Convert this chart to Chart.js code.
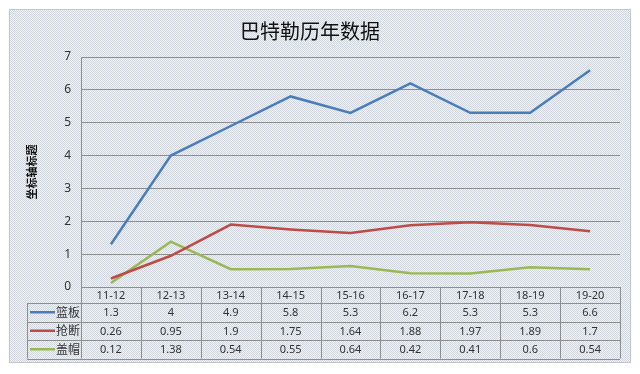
<!DOCTYPE html>
<html>
<head>
<meta charset="utf-8">
<script src="https://cdn.jsdelivr.net/npm/chart.js@4/dist/chart.umd.min.js"></script>
<style>
  html, body { margin: 0; padding: 0; background: #fff; }
  #wrap { width: 640px; height: 374px; }
</style>
</head>
<body>
<div id="wrap"><canvas id="c" width="640" height="374"></canvas></div>
<script>
// 数据
const seasons = ['11-12', '12-13', '13-14', '14-15', '15-16', '16-17', '17-18', '18-19', '19-20'];
const rebounds = [1.3, 4, 4.9, 5.8, 5.3, 6.2, 5.3, 5.3, 6.6];
const steals = [0.26, 0.95, 1.9, 1.75, 1.64, 1.88, 1.97, 1.89, 1.7];
const blocks = [0.12, 1.38, 0.54, 0.55, 0.64, 0.42, 0.41, 0.6, 0.54];
const seriesNames = ['篮板', '抢断', '盖帽'];
const yTicks = [0, 1, 2, 3, 4, 5, 6, 7];

const colors = ['#4a7ebb', '#be4b48', '#98b954'];
const gridColor = '#8e8e8e';
const CJK = '"Noto Sans CJK SC", "Noto Sans", sans-serif';

function dotPattern(ctx) {
    const p = document.createElement('canvas');
    p.width = 2; p.height = 2;
    const g = p.getContext('2d');
    g.fillStyle = '#eef1f5'; g.fillRect(0, 0, 2, 2);
    g.fillStyle = '#d0d7e0'; g.fillRect(0, 0, 1, 1); g.fillRect(1, 1, 1, 1);
    return ctx.createPattern(p, 'repeat');
}

// 背景框 + 数据表
const framePlugin = {
    id: 'frame',
    beforeDraw(chart) {
        const ctx = chart.ctx;
        ctx.save();
        ctx.fillStyle = '#fff';
        ctx.fillRect(0, 0, chart.width, chart.height);
        ctx.fillStyle = dotPattern(ctx);
        ctx.fillRect(9, 9, 622, 354);
        ctx.strokeStyle = '#c4c8cc';
        ctx.lineWidth = 1;
        ctx.strokeRect(9.5, 9.5, 621, 353);
        ctx.restore();
    },
    afterDraw(chart) {
        const ctx = chart.ctx;
        const x = chart.scales.x;
        const area = chart.chartArea;
        const half = (x.getPixelForValue(1) - x.getPixelForValue(0)) / 2;
        const top = area.bottom, headBottom = 303, rowH = 18.5, legendLeft = 27;
        const bottom = headBottom + rowH * 3;
        const rows = [rebounds, steals, blocks];
        const crisp = v => Math.round(v) + 0.5;

        ctx.save();
        ctx.strokeStyle = gridColor;
        ctx.lineWidth = 1;
        ctx.beginPath();
        // 竖线
        for (let i = 0; i <= seasons.length; i++) {
            const px = crisp(x.getPixelForValue(i) - half);
            ctx.moveTo(px, top); ctx.lineTo(px, bottom);
        }
        ctx.moveTo(crisp(legendLeft), headBottom); ctx.lineTo(crisp(legendLeft), bottom);
        // 横线
        for (let r = 0; r <= 3; r++) {
            const py = crisp(headBottom + r * rowH);
            ctx.moveTo(legendLeft, py); ctx.lineTo(area.right, py);
        }
        ctx.stroke();

        ctx.textAlign = 'center';
        ctx.textBaseline = 'middle';
        ctx.fillStyle = '#333';
        ctx.font = '11px "Noto Sans", sans-serif';
        seasons.forEach((s, i) => ctx.fillText(s, x.getPixelForValue(i), (top + headBottom) / 2 + 1));
        rows.forEach((vals, r) => {
            const cy = headBottom + rowH * (r + 0.5) + 1;
            vals.forEach((v, i) => ctx.fillText(String(v), x.getPixelForValue(i), cy));
            // 图例
            ctx.strokeStyle = colors[r];
            ctx.lineWidth = 2.5;
            ctx.beginPath();
            ctx.moveTo(30, cy - 1); ctx.lineTo(55, cy - 1);
            ctx.stroke();
            ctx.textAlign = 'left';
            ctx.font = '12px ' + CJK;
            ctx.fillText(seriesNames[r], 56, cy - 1);
            ctx.textAlign = 'center';
            ctx.font = '11px "Noto Sans", sans-serif';
        });
        ctx.restore();
    }
};

const lineDs = (label, data, color) => ({
    label, data, borderColor: color, backgroundColor: color,
    borderWidth: 2.5, pointRadius: 0, tension: 0, fill: false,
});

new Chart(document.getElementById('c'), {
    type: 'line',
    data: {
        labels: seasons,
        datasets: [
            lineDs(seriesNames[0], rebounds, colors[0]),
            lineDs(seriesNames[1], steals, colors[1]),
            lineDs(seriesNames[2], blocks, colors[2]),
        ],
    },
    options: {
        responsive: false, animation: false,
        layout: { padding: { top: 0, right: 20, left: 0, bottom: 0 } },
        plugins: {
            legend: { display: false },
            tooltip: { enabled: false },
            title: {
                display: true, text: '巴特勒历年数据', color: '#111',
                font: { family: CJK, size: 20, weight: 'normal', lineHeight: 1.2 },
                padding: { top: 19, bottom: 14 },
            },
        },
        scales: {
            x: {
                offset: true,
                grid: { display: false },
                border: { display: false },
                ticks: { display: false },
                afterFit(s) { s.height = 87; },
            },
            y: {
                min: 0, max: 7,
                afterBuildTicks(s) { s.ticks = yTicks.map(v => ({ value: v })); },
                grid: { color: gridColor, lineWidth: 1, drawTicks: false },
                border: { display: true, color: gridColor },
                ticks: { color: '#333', padding: 10, font: { family: '"Noto Sans", sans-serif', size: 12 } },
                title: {
                    display: true, text: '坐标轴标题', color: '#111',
                    font: { family: CJK, size: 11, weight: 'bold' },
                    padding: { top: 25, bottom: 0 },
                },
                afterFit(s) { s.width = 81; },
            },
        },
    },
    plugins: [framePlugin],
});
</script>
</body>
</html>
